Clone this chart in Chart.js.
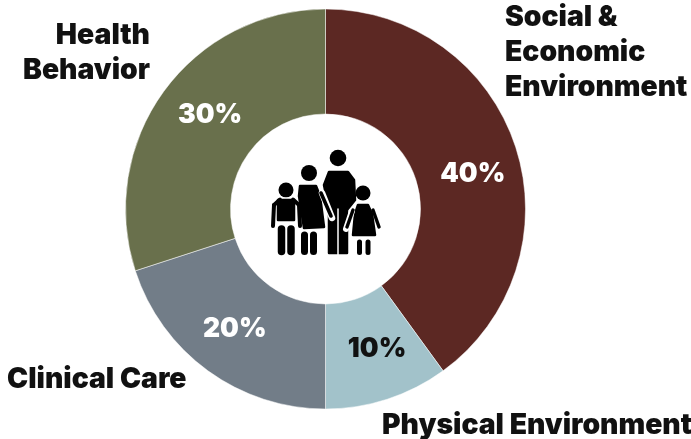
<!DOCTYPE html>
<html>
<head>
<meta charset="utf-8">
<script src="https://cdn.jsdelivr.net/npm/chart.js@4"></script>
<style>
  html, body { margin: 0; padding: 0; background: #fff; }
  #wrap { position: relative; width: 691px; height: 439px; }
</style>
</head>
<body>
<div id="wrap"><canvas id="chart" width="691" height="439"></canvas></div>
<script>
const categories = ['Social & Economic Environment', 'Physical Environment', 'Clinical Care', 'Health Behavior'];
const shares = [40, 10, 20, 30];
const sliceColors = ['#5c2823', '#a2c2ca', '#727d88', '#69704c'];
const valueColors = ['#fff', '#111', '#fff', '#fff'];
const valueNudges = [[7, 11], [6, 0], [-4, 1], [4, -7]];

const FONT = 'Inter, "Open Sans", sans-serif';

// slice percentages, placed near the middle of each arc
const valueLabels = {
  id: 'valueLabels',
  afterDatasetsDraw(chart) {
    const { ctx } = chart;
    ctx.save();
    ctx.font = '900 26.5px ' + FONT;
    ctx.textAlign = 'center';
    ctx.textBaseline = 'middle';
    chart.getDatasetMeta(0).data.forEach((arc, i) => {
      const p = arc.tooltipPosition();
      ctx.fillStyle = valueColors[i];
      ctx.fillText(shares[i] + '%', p.x + valueNudges[i][0], p.y + valueNudges[i][1]);
    });
    ctx.restore();
  }
};

// outer category captions
const captions = [
  { lines: ['Social &', 'Economic', 'Environment'], x: 505, y: 17, align: 'left' },
  { lines: ['Physical Environment'], x: 382, y: 425, align: 'left' },
  { lines: ['Clinical Care'], x: 7, y: 379, align: 'left' },
  { lines: ['Health', 'Behavior'], x: 150, y: 35, align: 'right' }
];
const captionLabels = {
  id: 'captionLabels',
  afterDraw(chart) {
    const { ctx } = chart;
    ctx.save();
    ctx.font = '900 28.3px ' + FONT;
    ctx.fillStyle = '#111';
    ctx.textBaseline = 'middle';
    captions.forEach(c => {
      ctx.textAlign = c.align;
      c.lines.forEach((line, i) => ctx.fillText(line, c.x, c.y + i * 35));
    });
    ctx.restore();
  }
};

// family pictogram in the hole
function limb(ctx, x1, y1, x2, y2, w) {
  ctx.lineWidth = w;
  ctx.lineCap = 'round';
  ctx.beginPath();
  ctx.moveTo(x1, y1);
  ctx.lineTo(x2, y2);
  ctx.stroke();
}
function head(ctx, x, y, r) {
  ctx.beginPath();
  ctx.arc(x, y, r, 0, Math.PI * 2);
  ctx.fill();
}
// black shape with a white halo, so figures stay apart where they overlap
function shape(ctx, pts) {
  ctx.beginPath();
  pts.forEach((p, i) => (i ? ctx.lineTo(p[0], p[1]) : ctx.moveTo(p[0], p[1])));
  ctx.closePath();
  ctx.lineJoin = 'round';
  ctx.lineWidth = 5;
  ctx.strokeStyle = '#fff';
  ctx.stroke();
  ctx.lineWidth = 2.5;
  ctx.strokeStyle = '#000';
  ctx.stroke();
  ctx.fill();
}
const familyIcon = {
  id: 'familyIcon',
  afterDraw(chart) {
    const { ctx } = chart;
    ctx.save();
    ctx.fillStyle = '#000';
    ctx.strokeStyle = '#000';

    // father
    head(ctx, 338, 158, 8.3);
    shape(ctx, [[329, 172], [348, 172], [354, 180], [355, 200], [347, 210], [347, 253], [329, 253], [329, 210], [324, 185]]);
    ctx.strokeStyle = '#fff';
    limb(ctx, 338, 209, 338, 256, 1.5);

    // mother
    ctx.strokeStyle = '#000';
    head(ctx, 309, 173, 8);
    shape(ctx, [[300, 186], [316, 186], [320, 196], [324, 227], [304, 228], [299, 196]]);
    ctx.strokeStyle = '#fff';
    limb(ctx, 322, 193, 332, 218, 6.5);
    ctx.strokeStyle = '#000';
    limb(ctx, 321, 193, 331, 216, 3.6);
    limb(ctx, 304.5, 235, 304.5, 251.5, 7);
    limb(ctx, 313.5, 235, 313.5, 251.5, 7);

    // boy
    head(ctx, 286, 190, 7.5);
    shape(ctx, [[278, 200], [294, 200], [294, 220], [278, 220]]);
    limb(ctx, 274, 205, 273, 226, 4);
    limb(ctx, 299, 205, 300, 226, 4);
    limb(ctx, 274, 205, 280, 199.5, 4);
    limb(ctx, 299, 205, 293, 199.5, 4);
    limb(ctx, 281.5, 229, 281.5, 251.5, 7.5);
    limb(ctx, 291, 229, 291, 251.5, 7.5);

    // girl
    head(ctx, 363, 193, 7.5);
    shape(ctx, [[358, 205], [368, 205], [372, 214], [375, 235], [353, 235], [355, 214]]);
    ctx.strokeStyle = '#fff';
    limb(ctx, 352, 211, 346, 229, 6);
    ctx.strokeStyle = '#000';
    limb(ctx, 353, 210, 347, 227, 3.4);
    limb(ctx, 373, 210, 379, 227, 3.4);
    limb(ctx, 359.5, 242, 359.5, 252.5, 5);
    limb(ctx, 368, 242, 368, 252.5, 5);
    ctx.restore();
  }
};

new Chart(document.getElementById('chart'), {
  type: 'doughnut',
  data: {
    labels: categories,
    datasets: [{
      data: shares,
      backgroundColor: sliceColors,
      borderColor: '#ffffff',
      borderWidth: 0.5
    }]
  },
  options: {
    responsive: false,
    animation: false,
    cutout: '47.5%',
    radius: 200,
    layout: { padding: { left: 0, right: 40, top: 0, bottom: 21 } },
    plugins: { legend: { display: false }, tooltip: { enabled: false } }
  },
  plugins: [valueLabels, captionLabels, familyIcon]
});
</script>
</body>
</html>
